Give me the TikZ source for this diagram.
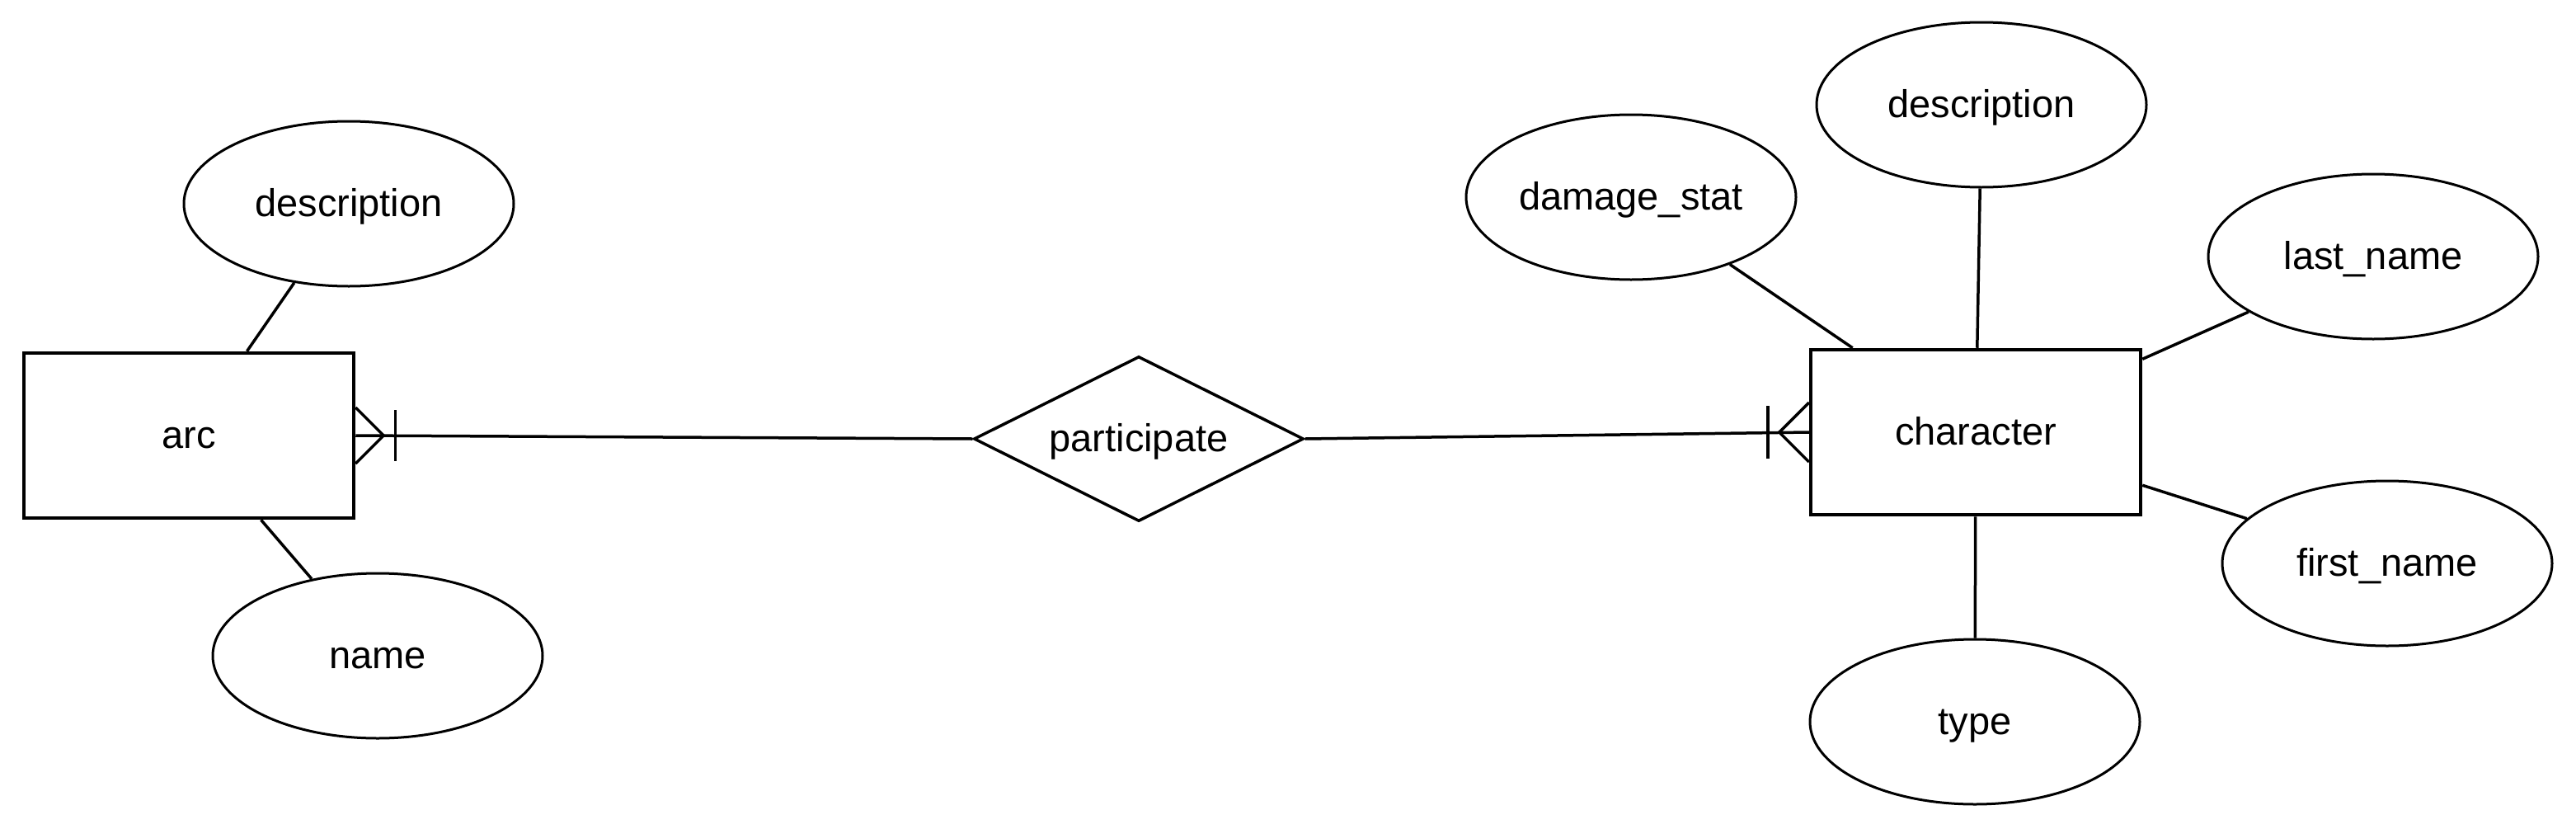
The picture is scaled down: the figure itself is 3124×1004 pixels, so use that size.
\documentclass[tikz,border=0pt]{standalone}
\usepackage{fontspec}
\setmainfont{Liberation Sans}
\usetikzlibrary{shapes.geometric,calc}
\tikzset{
  lbl/.style={font=\fontsize{47}{56}\selectfont, text height=42pt, text depth=11pt, inner sep=0pt},
  entity/.style={lbl, draw, line width=4.5pt, rectangle, minimum width=400pt, minimum height=200pt},
  attr/.style={lbl, draw, line width=3pt, ellipse, minimum width=400pt, minimum height=200pt},
  rel/.style={lbl, draw, line width=3.5pt, diamond, aspect=2, minimum width=400pt, minimum height=200pt},
  conn/.style={line width=3.5pt},
}
\begin{document}
\begin{tikzpicture}[x=1pt,y=-1pt]
\useasboundingbox (0,0) rectangle (3124,1004);
\fill[white] (0,0) rectangle (3124,1004);
% entities
\node[entity] (arc) at (229,528) {arc};
\node[entity] (char) at (2396,524) {character};
\node[rel] (part) at (1381,532) {participate};
% attributes of arc
\node[attr] (arcdesc) at (423,247) {description};
\node[attr] (arcname) at (458,795) {name};
% attributes of character
\node[attr] (dmg) at (1978,239) {damage\_stat};
\node[attr] (chdesc) at (2403,127) {description};
\node[attr] (lname) at (2878,311) {last\_name};
\node[attr] (fname) at (2895,683) {first\_name};
\node[attr] (ctype) at (2395,875) {type};
% attribute connectors
\draw[conn] (arcdesc) -- (arc);
\draw[conn] (arcname) -- (arc);
\draw[conn] (dmg) -- (char);
\draw[conn] (chdesc) -- (char);
\draw[conn] (lname) -- (char);
\draw[conn] (fname) -- (char);
\draw[conn] (ctype) -- (char);
% relationship connectors
\draw[conn] (arc.east) -- (part.west);
\draw[conn] (part.east) -- (char.west);
% crow's feet (one or many)
\coordinate (ta) at ($(arc.east)+(34,0)$);
\draw[conn] ($(arc.east)+(0,-34)$) -- (ta) -- ($(arc.east)+(0,34)$);
\draw[conn] ($(arc.east)+(48,-31)$) -- ($(arc.east)+(48,31)$);
\coordinate (tc) at ($(char.west)+(-36,0)$);
\draw[conn] ($(char.west)+(0,-36)$) -- (tc) -- ($(char.west)+(0,36)$);
\draw[conn] ($(char.west)+(-50,-32)$) -- ($(char.west)+(-50,32)$);
\end{tikzpicture}
\end{document}
